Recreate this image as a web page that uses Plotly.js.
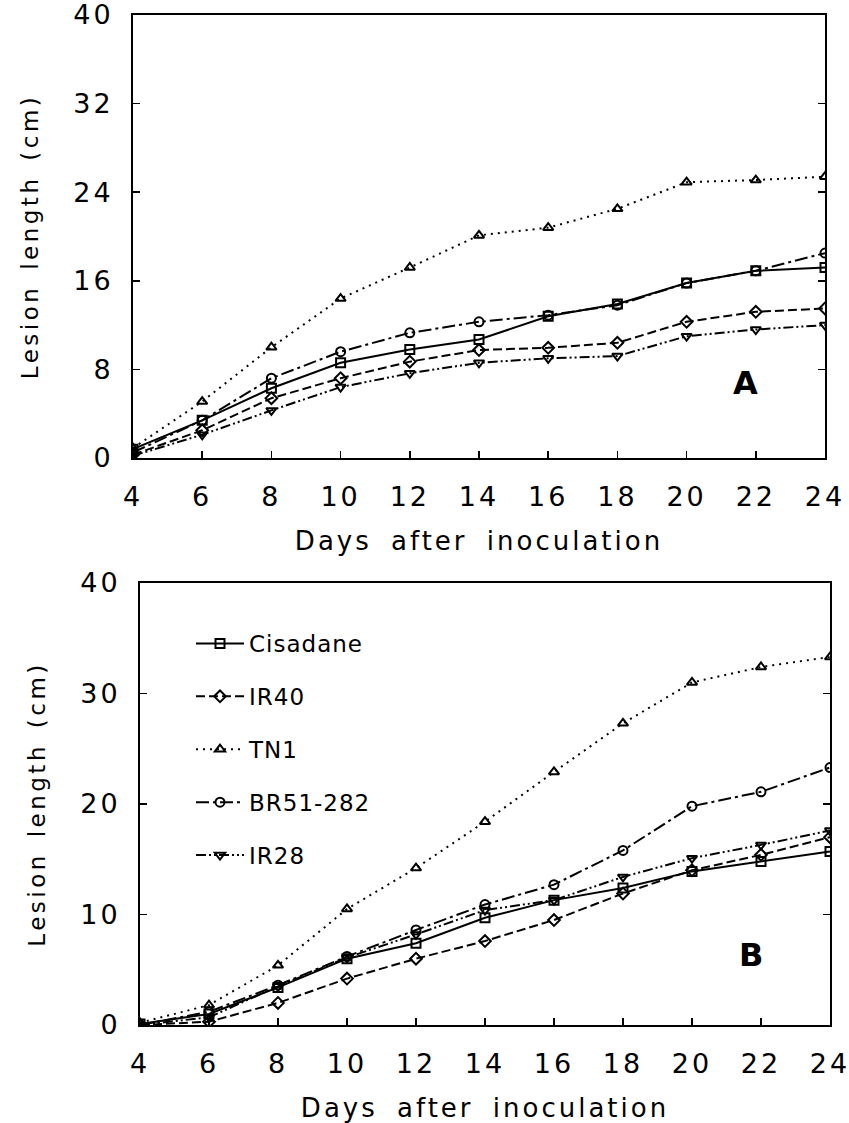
<!DOCTYPE html>
<html><head><meta charset="utf-8">
<script src="https://cdn.plot.ly/plotly-3.0.1.min.js"></script>
<style>
body{margin:0;background:#fff}#c{width:849px;height:1123px}
#c .main-svg text{letter-spacing:3px}
#c text.xtitle, #c text.x2title{letter-spacing:3px;word-spacing:8px}
#c text.ytitle, #c text.y2title{letter-spacing:3.5px;word-spacing:4px}
#c text.legendtext{letter-spacing:1px}
#c g.annotation text{letter-spacing:0}
</style>
</head><body><div id="c"></div>
<script>
const days = [4,6,8,10,12,14,16,18,20,22,24];
const names = ['Cisadane','IR40','TN1','BR51-282','IR28'];
// Panel A
const A_Cisadane = [0.8,3.4,6.3,8.6,9.8,10.7,12.8,13.9,15.8,16.9,17.2];
const A_IR40     = [0.3,2.5,5.4,7.2,8.7,9.75,9.95,10.4,12.3,13.2,13.5];
const A_TN1      = [0.9,5.1,10.0,14.4,17.2,20.1,20.8,22.5,24.9,25.1,25.4];
const A_BR51     = [0.5,3.4,7.2,9.6,11.3,12.3,12.9,13.8,15.8,16.9,18.5];
const A_IR28     = [0.2,2.1,4.3,6.4,7.65,8.6,9.0,9.2,11.0,11.6,12.0];
// Panel B
const B_Cisadane = [0.1,1.0,3.4,6.0,7.4,9.7,11.3,12.4,13.9,14.8,15.7];
const B_IR40     = [0.0,0.3,2.0,4.2,6.0,7.6,9.5,11.9,14.0,15.4,17.0];
const B_TN1      = [0.2,1.8,5.4,10.5,14.2,18.4,22.9,27.3,31.0,32.4,33.3];
const B_BR51     = [0.0,1.2,3.6,6.2,8.6,10.9,12.7,15.8,19.8,21.1,23.3];
const B_IR28     = [0.0,0.7,3.5,6.1,8.2,10.4,11.3,13.4,15.1,16.3,17.6];
const yticksA = [0,8,16,24,32,40];
const yticksB = [0,10,20,30,40];

const styles = [
  {dash:'solid', sym:'square-open'},
  {dash:'9px,4px', sym:'diamond-open'},
  {dash:'2px,5px', sym:'triangle-up-open'},
  {dash:'13px,4px,3px,4px', sym:'circle-open'},
  {dash:'10px,3px,2px,3px,2px,3px', sym:'triangle-down-open'}
];
const A = [A_Cisadane,A_IR40,A_TN1,A_BR51,A_IR28];
const B = [B_Cisadane,B_IR40,B_TN1,B_BR51,B_IR28];
const traces = [];
A.forEach((ys,i)=>traces.push({x:days,y:ys,xaxis:'x',yaxis:'y',type:'scatter',mode:'lines+markers',
  name:names[i],showlegend:false,line:{color:'#000',width:2,dash:styles[i].dash},
  marker:{symbol:styles[i].sym,size:9,color:'#000',line:{width:2,color:'#000'}}}));
B.forEach((ys,i)=>traces.push({x:days,y:ys,xaxis:'x2',yaxis:'y2',type:'scatter',mode:'lines+markers',
  name:names[i],legendgroup:'g'+i,showlegend:true,line:{color:'#000',width:2,dash:styles[i].dash},
  marker:{symbol:styles[i].sym,size:9,color:'#000',line:{width:2,color:'#000'}}}));

const font = {family:'DejaVu Sans, sans-serif',size:27,color:'#000'};
const xbase = {range:[4,24],tickvals:days,ticks:'inside',ticklen:7,tickwidth:1.5,tickcolor:'#000',
  showline:true,linewidth:2,linecolor:'#000',mirror:true,showgrid:false,zeroline:false,
  tickfont:font,ticklabelstandoff:14,ticklabeloverflow:'allow',
  title:{text:'Days after inoculation',font:{...font,size:26},standoff:20}};
const ybase = {ticks:'inside',ticklen:7,tickwidth:1.5,tickcolor:'#000',showline:true,linewidth:2,
  linecolor:'#000',mirror:'ticks',showgrid:false,zeroline:false,tickfont:font,ticklabelstandoff:12,
  ticklabeloverflow:'allow',
  title:{text:'Lesion length (cm)',font:{...font,size:23},standoff:34}};

const layout = {
  width:849,height:1123,margin:{l:0,r:0,t:0,b:0},paper_bgcolor:'#fff',plot_bgcolor:'#fff',
  font:font,
  xaxis:{...xbase,domain:[133/849,825/849],anchor:'y'},
  yaxis:{...ybase,domain:[1-458/1123,1-15/1123],range:[0,40],tickvals:yticksA,anchor:'x'},
  xaxis2:{...xbase,domain:[140/849,830/849],anchor:'y2'},
  yaxis2:{...ybase,domain:[1-1025/1123,1-583/1123],range:[0,40],tickvals:yticksB,anchor:'x2'},
  legend:{x:191/849,y:1-622/1123,xanchor:'left',yanchor:'top',font:{...font,size:23},
    tracegroupgap:20,itemwidth:48,bgcolor:'rgba(0,0,0,0)'},
  annotations:[
    {text:'<b>A</b>',x:21.7,y:6.8,xref:'x',yref:'y',showarrow:false,font:{...font,size:32}},
    {text:'<b>B</b>',x:21.7,y:6.3,xref:'x2',yref:'y2',showarrow:false,font:{...font,size:32}}
  ]
};
Plotly.newPlot('c',traces,layout,{staticPlot:true});
</script></body></html>
